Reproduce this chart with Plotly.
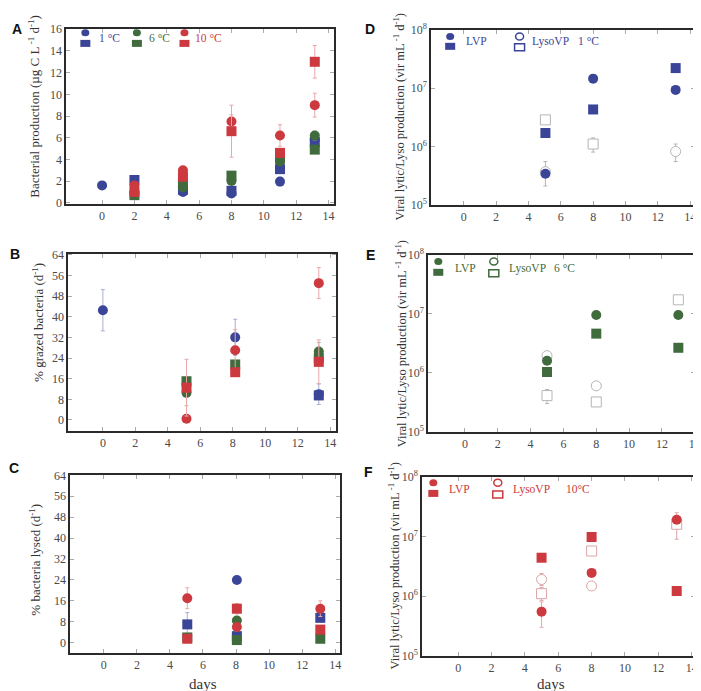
import plotly.graph_objects as go

W, H = 701, 691

BLUE = "#3b4597"
GREEN = "#3f6b3d"
RED = "#cc3a40"
BLUE_E = "#a9aed3"
GREEN_E = "#a7c0a3"
RED_E = "#e9a7aa"
GREY_OPEN = "#b5b5b5"
RED_OPEN = "#dca4a8"

# ---------------- Panel A : bacterial production ----------------
days_A = [0, 2, 5, 8, 11, 13.15]
A_blue_circle = [1.6, None, 1.0, 0.85, 1.95, 5.8]
A_blue_square = [None, 2.1, 1.2, 1.1, 3.1, 5.6]
A_green_circle = [None, 0.9, 1.4, 2.0, 3.8, 6.2]
A_green_square = [None, 0.7, 1.8, 2.5, 4.1, 4.9]
A_red_circle = [None, 1.6, 3.0, 7.5, 6.2, 9.0]
A_red_square = [None, 1.0, 2.4, 6.6, 4.6, 13.0]
A_blue_circle_err = [None, None, None, None, 0.4, None]
A_green_circle_err = [None, None, None, None, None, 0.4]
A_red_circle_err = [None, None, None, 0.6, 1.0, 1.1]
A_red_square_err = [None, None, None, 2.4, None, 1.5]

# ---------------- Panel B : % grazed bacteria ----------------
days_B = [0, 5.15, 8.15, 13.3]
B_blue_circle = [42.5, None, 32.0, 10.0]
B_blue_square = [None, None, None, 9.5]
B_green_circle = [None, 10.5, None, 26.5]
B_green_square = [None, 15.0, 21.5, 24.0]
B_red_circle = [None, 0.5, 27.0, 53.0]
B_red_square = [None, 12.5, 18.5, 22.5]
B_blue_circle_err = [8.0, None, 7.0, 4.0]
B_green_circle_err = [None, 5.0, None, 3.5]
B_red_circle_err = [None, None, 8.0, 6.0]
B_red_square_err = [None, 11.0, None, 8.5]

# ---------------- Panel C : % bacteria lysed ----------------
days_C = [5.05, 8.05, 13.1]
C_blue_circle = [None, 24.0, None]
C_blue_square = [7.0, 2.5, 9.5]
C_green_circle = [None, 8.5, None]
C_green_square = [2.0, 1.0, 1.5]
C_red_circle = [17.0, 6.0, 13.0]
C_red_square = [1.5, 13.0, 5.0]
C_blue_square_err = [4.5, None, 1.5]
C_red_circle_err = [4.0, None, 3.0]
C_red_square_err = [None, 2.0, None]

# ---------------- Panels D-F : viral production (vir mL-1 d-1) ----------------
days_D = [5.05, 8.0, 13.1]
D_lvp_circle = [3.4e5, 1.45e7, 9.3e6]
D_lvp_square = [1.7e6, 4.3e6, 2.2e7]
D_lyso_circle = [3.7e5, None, 8.2e5]
D_lyso_square = [2.85e6, 1.1e6, None]
D_lyso_circle_up = [1.8e5, None, 2.8e5]
D_lyso_circle_dn = [1.6e5, None, 2.7e5]
D_lyso_square_up = [None, 3.0e5, None]
D_lyso_square_dn = [None, 3.0e5, None]

days_E = [5.0, 8.0, 13.0]
E_lvp_circle = [1.6e6, 9.5e6, 9.5e6]
E_lvp_square = [1.03e6, 4.6e6, 2.65e6]
E_lyso_circle = [1.95e6, 6.0e5, None]
E_lyso_square = [4.1e5, 3.2e5, 1.72e7]
E_lyso_square_up = [1.1e5, None, None]
E_lyso_square_dn = [1.1e5, None, None]

days_F = [5.0, 8.0, 13.1]
F_lvp_circle = [5.5e5, 2.45e6, 1.9e7]
F_lvp_square = [4.4e6, 9.8e6, 1.22e6]
F_lyso_circle = [1.9e6, 1.48e6, None]
F_lyso_square = [1.1e6, 5.7e6, 1.6e7]
F_lvp_circle_up = [2.5e5, None, 6.0e6]
F_lvp_circle_dn = [2.5e5, None, None]
F_lyso_circle_up = [5.0e5, None, None]
F_lyso_circle_dn = [4.0e5, None, None]
F_lyso_square_up = [3.0e5, None, 3.0e6]
F_lyso_square_dn = [2.5e5, None, 7.0e6]

x_ticks = [0, 2, 4, 6, 8, 10, 12, 14]
y_ticks_A = [0, 2, 4, 6, 8, 10, 12, 14, 16]
y_ticks_BC = [0, 8, 16, 24, 32, 40, 48, 56, 64]
log_ticks = [1e5, 1e6, 1e7, 1e8]
log_ticktext = ["10<sup>5</sup>", "10<sup>6</sup>", "10<sup>7</sup>", "10<sup>8</sup>"]

SERIF = "Liberation Serif"
SANS = "Liberation Sans"


def px(x):
    return x / W


def py(y):
    return 1 - y / H


fig = go.Figure()

panels = {
    # name: (x px range, y px range, xrange, yrange, log)
    "A": ((59, 329), (13, 192), [-2.2, 14.35], [-0.1, 16.05], False),
    "B": ((61, 331), (243, 424), [-2.12, 14.37], [-4.2, 64.4], False),
    "C": ((63, 335), (469, 651), [-2.02, 14.3], [-3.9, 64.2], False),
    "D": ((427, 693), (14, 193), [-2.0, 14.3], [5, 8], True),
    "E": ((424, 693), (244, 425), [-2.23, 14.02], [5, 8], True),
    "F": ((418, 693), (471, 654), [-2.14, 14.2], [5, 8], True),
}
axis_ids = {"A": "", "B": "2", "C": "3", "D": "4", "E": "5", "F": "6"}

tickfont = dict(family=SERIF, size=12, color="#4a4a4a")
layout = {}
for name, (xp, yp, xr, yr, lg) in panels.items():
    i = axis_ids[name]
    xa = dict(domain=[px(xp[0]), px(xp[1])], range=xr, anchor="y" + i,
              tickvals=x_ticks, ticks="inside", ticklen=4, tickcolor="#aaa",
              showline=True, linecolor="#2a2a2a", linewidth=2, mirror="ticks",
              showgrid=False, zeroline=False, tickfont=tickfont)
    ya = dict(domain=[py(yp[1]), py(yp[0])], range=yr, anchor="x" + i,
              ticks="inside", ticklen=4, tickcolor="#aaa",
              showline=True, linecolor="#2a2a2a", linewidth=2, mirror="ticks",
              showgrid=False, zeroline=False, tickfont=tickfont)
    if lg:
        ya.update(type="log", tickvals=log_ticks, ticktext=log_ticktext)
    else:
        ya.update(tickvals=y_ticks_A if name == "A" else y_ticks_BC)
    layout["xaxis" + i] = xa
    layout["yaxis" + i] = ya


def add(panel, x, y, color, symbol, err=None, errm=None, ecolor=None, open_=False):
    i = axis_ids[panel]
    marker = dict(color=color, size=10, symbol=symbol, line=dict(width=0))
    if open_:
        marker = dict(color="white", size=10, symbol=symbol, line=dict(width=1, color=color))
    tr = go.Scatter(x=x, y=y, mode="markers", marker=marker, xaxis="x" + i, yaxis="y" + i,
                    showlegend=False, cliponaxis=False)
    if err is not None:
        ed = dict(type="data", array=err, color=ecolor, thickness=1, width=2, visible=True)
        if errm is not None:
            ed.update(symmetric=False, arrayminus=errm)
        tr.error_y = ed
    fig.add_trace(tr)


# Panel A
add("A", days_A, A_blue_circle, BLUE, "circle", A_blue_circle_err, None, BLUE_E)
add("A", days_A, A_blue_square, BLUE, "square")
add("A", days_A, A_green_circle, GREEN, "circle", A_green_circle_err, None, GREEN_E)
add("A", days_A, A_green_square, GREEN, "square")
add("A", days_A, A_red_circle, RED, "circle", A_red_circle_err, None, RED_E)
add("A", days_A, A_red_square, RED, "square", A_red_square_err, None, RED_E)

# Panel B
add("B", days_B, B_blue_circle, BLUE, "circle", B_blue_circle_err, None, BLUE_E)
add("B", days_B, B_blue_square, BLUE, "square")
add("B", days_B, B_green_circle, GREEN, "circle", B_green_circle_err, None, GREEN_E)
add("B", days_B, B_green_square, GREEN, "square")
add("B", days_B, B_red_circle, RED, "circle", B_red_circle_err, None, RED_E)
add("B", days_B, B_red_square, RED, "square", B_red_square_err, None, RED_E)

# Panel C
add("C", days_C, C_blue_circle, BLUE, "circle")
add("C", days_C, C_blue_square, BLUE, "square", C_blue_square_err, None, BLUE_E)
add("C", days_C, C_green_circle, GREEN, "circle")
add("C", days_C, C_green_square, GREEN, "square")
add("C", days_C, C_red_circle, RED, "circle", C_red_circle_err, None, RED_E)
add("C", days_C, C_red_square, RED, "square", C_red_square_err, None, RED_E)

# Panel D
add("D", days_D, D_lyso_circle, GREY_OPEN, "circle", D_lyso_circle_up, D_lyso_circle_dn, GREY_OPEN, True)
add("D", days_D, D_lyso_square, GREY_OPEN, "square", D_lyso_square_up, D_lyso_square_dn, GREY_OPEN, True)
add("D", days_D, D_lvp_circle, BLUE, "circle")
add("D", days_D, D_lvp_square, BLUE, "square")

# Panel E
add("E", days_E, E_lyso_circle, GREY_OPEN, "circle", None, None, None, True)
add("E", days_E, E_lyso_square, GREY_OPEN, "square", E_lyso_square_up, E_lyso_square_dn, GREY_OPEN, True)
add("E", days_E, E_lvp_circle, GREEN, "circle")
add("E", days_E, E_lvp_square, GREEN, "square")

# Panel F
add("F", days_F, F_lyso_circle, RED_OPEN, "circle", F_lyso_circle_up, F_lyso_circle_dn, RED_OPEN, True)
add("F", days_F, F_lyso_square, RED_OPEN, "square", F_lyso_square_up, F_lyso_square_dn, RED_OPEN, True)
add("F", days_F, F_lvp_circle, RED, "circle", F_lvp_circle_up, F_lvp_circle_dn, RED_E)
add("F", days_F, F_lvp_square, RED, "square")

# ---------------- annotations (titles, panel letters, legend labels) ----------------
ann = []


def ytitle(text, x, y, size=13):
    ann.append(dict(text=text, x=px(x), y=py(y), xref="paper", yref="paper", showarrow=False,
                    textangle=-90, font=dict(family=SERIF, size=size, color="#333"),
                    xanchor="center", yanchor="middle"))


ytitle("Bacterial production (µg C L<sup> -1</sup> d<sup>-1</sup>)", 26, 92)
ytitle("% grazed bacteria (d<sup>-1</sup>)", 30, 313)
ytitle("% bacteria lysed (d<sup>-1</sup>)", 27, 556)
ytitle("Viral lytic/Lyso production (vir mL<sup> -1</sup> d<sup>-1</sup>)", 394, 103, 12.5)
ytitle("Viral lytic/Lyso production (vir mL<sup> -1</sup> d<sup>-1</sup>)", 396, 335, 12.5)
ytitle("Viral lytic/Lyso production (vir mL<sup> -1</sup> d<sup>-1</sup>)", 389, 562, 12.5)

for t, x in (("days", 197), ("days", 548)):
    ann.append(dict(text=t, x=px(x), y=py(683), xref="paper", yref="paper", showarrow=False,
                    font=dict(family=SERIF, size=15, color="#333"), xanchor="center", yanchor="middle"))

for letter, x, y in (("A", 9, 13), ("B", 7, 243), ("C", 6, 462), ("D", 365, 13), ("E", 366, 244), ("F", 364, 466)):
    ann.append(dict(text="<b>" + letter + "</b>", x=px(x), y=py(y), xref="paper", yref="paper",
                    showarrow=False, font=dict(family=SANS, size=14, color="#111"),
                    xanchor="center", yanchor="middle"))

legend_labels = [
    ("1 °C", 90, 22, BLUE), ("6 °C", 140, 22, GREEN), ("10 °C", 187, 22, RED),
    ("LVP", 460, 26, BLUE), ("LysoVP", 527, 26, BLUE), ("1 °C", 573, 26, BLUE),
    ("LVP", 449, 258, GREEN), ("LysoVP", 503, 258, GREEN), ("6 °C", 549, 258, GREEN),
    ("LVP", 443, 484, RED), ("LysoVP", 507, 484, RED), ("10°C", 561, 484, RED),
]
for t, x, y, c in legend_labels:
    ann.append(dict(text=t, x=px(x), y=py(y), xref="paper", yref="paper", showarrow=False,
                    font=dict(family=SERIF, size=11.5, color=c), xanchor="left", yanchor="middle"))

# legend glyphs as shapes
shapes = []


def glyph(kind, x, y, color, filled=True, w=9, h=8):
    d = dict(type=kind, xref="paper", yref="paper", xsizemode="pixel", ysizemode="pixel",
             xanchor=px(x), yanchor=py(y), x0=-w / 2, x1=w / 2, y0=-h / 2, y1=h / 2,
             line=dict(color=color, width=1.5 if not filled else 0))
    if filled:
        d["fillcolor"] = color
    shapes.append(d)


for x, c in ((78, BLUE), (130, GREEN), (178, RED)):
    glyph("circle", x, 17, c, True, 8, 7)
    glyph("rect", x, 28, c, True, 10, 7)

for (xf, xo, yc, ys, c) in ((446, 516, 21, 31, BLUE), (434, 490, 251, 262, GREEN), (429, 494, 477, 488, RED)):
    glyph("circle", xf, yc, c, True, 8, 7)
    glyph("rect", xf, ys, c, True, 10, 7)
    glyph("circle", xo, yc, c, False, 8, 7)
    glyph("rect", xo, ys + 1, c, False, 10, 7)

fig.update_layout(width=W, height=H, margin=dict(l=0, r=0, t=0, b=0),
                  paper_bgcolor="white", plot_bgcolor="white",
                  annotations=ann, shapes=shapes, showlegend=False, **layout)

fig.write_html("out.html")
